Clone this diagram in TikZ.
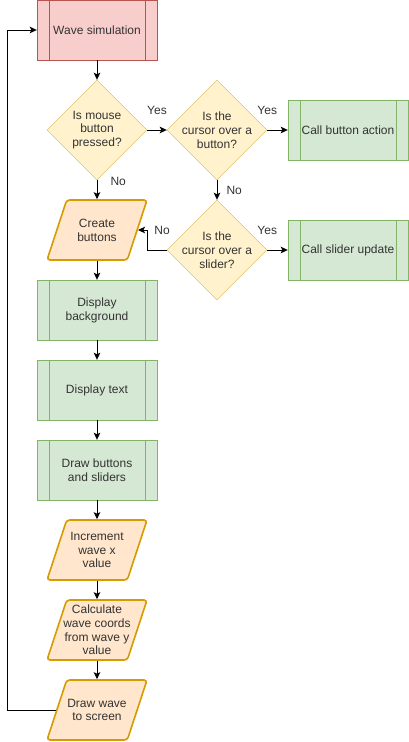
\documentclass[tikz,border=0pt]{standalone}
\usepackage{fontspec}
\setmainfont{Liberation Sans}
\usetikzlibrary{shapes.geometric,arrows.meta}
\definecolor{redfill}{HTML}{F8CECC}
\definecolor{redline}{HTML}{B85450}
\definecolor{greenfill}{HTML}{D5E8D4}
\definecolor{greenline}{HTML}{82B366}
\definecolor{yellowfill}{HTML}{FFF2CC}
\definecolor{yellowline}{HTML}{D6B656}
\definecolor{orangefill}{HTML}{FFE6CC}
\definecolor{orangeline}{HTML}{D79B00}
\definecolor{txtgray}{HTML}{333333}

\begin{document}
\begin{tikzpicture}[x=1pt, y=-1pt, font=\fontsize{12}{14}\selectfont, text=txtgray,
  predef/.style 2 args={rectangle, draw=#2, fill=#1, minimum width=120pt,
    minimum height=60pt, align=center,
    path picture={\draw[#2]
      ([xshift=12pt]path picture bounding box.north west) -- ([xshift=12pt]path picture bounding box.south west)
      ([xshift=-12pt]path picture bounding box.north east) -- ([xshift=-12pt]path picture bounding box.south east);}},
  decision/.style={diamond, draw=yellowline, fill=yellowfill, minimum width=100pt,
    minimum height=100pt, inner sep=2pt},
  io/.style={trapezium, trapezium left angle=72, trapezium right angle=108,
    trapezium stretches=true, draw=orangeline, fill=orangefill, line width=1.6pt,
    rounded corners=3pt, minimum width=100pt, minimum height=60pt, inner sep=2pt},
  txt/.style={align=center, inner sep=0pt, font=\fontsize{12}{13.8}\selectfont},
  arr/.style={-{Stealth[length=7pt,width=6.5pt,inset=1.5pt]}, line width=1pt},
  lbl/.style={inner sep=1pt}
  ]
  \useasboundingbox (0,0) rectangle (408,742);

  \node[predef={redfill}{redline}] (ws) at (97,30) {Wave simulation};
  \node[decision, label={[txt]center:Is mouse\\button\\pressed?}] (mouse) at (97,130) {};
  \node[decision, label={[txt]center:Is the\\cursor over a\\button?}] (onbutton) at (217,130) {};
  \node[predef={greenfill}{greenline}] (action) at (348,130) {Call button action};
  \node[decision, label={[txt]center:Is the\\cursor over a\\slider?}] (onslider) at (217,250) {};
  \node[predef={greenfill}{greenline}] (update) at (348,250) {Call slider update};
  \node[io, label={[txt]center:Create\\buttons}] (create) at (97,230) {};
  \node[predef={greenfill}{greenline}] (background) at (97,310) {Display\\background};
  \node[predef={greenfill}{greenline}] (showtext) at (97,390) {Display text};
  \node[predef={greenfill}{greenline}] (drawbs) at (97,470) {Draw buttons\\and sliders};
  \node[io, label={[txt]center:Increment\\wave x\\value}] (incx) at (97,550) {};
  \node[io, label={[txt]center:Calculate\\wave coords\\from wave y\\value}] (coords) at (97,630) {};
  \node[io, label={[txt]center:Draw wave\\to screen}] (drawwave) at (97,710) {};
  \coordinate (back) at (7,0);

  \draw[arr] (ws) -- (mouse);
  \draw[arr] (mouse) -- node[lbl, midway, above=14pt] {Yes} (onbutton);
  \draw[arr] (onbutton) -- node[lbl, pos=0, above=14pt] {Yes} (action);
  \draw[arr] (mouse) -- node[lbl, pos=0.05, right=12pt] {No} (create);
  \draw[arr] (onbutton) -- node[lbl, midway, right=8pt] {No} (onslider);
  \draw[arr] (onslider) -- node[lbl, pos=0, above=14pt] {Yes} (update);
  \draw[arr] (onslider.west) -- node[lbl, pos=0.25, above=14pt] {No} ++(-19,0) |- (create.east);
  \draw[arr] (create) -- (background);
  \draw[arr] (background) -- (showtext);
  \draw[arr] (showtext) -- (drawbs);
  \draw[arr] (drawbs) -- (incx);
  \draw[arr] (incx) -- (coords);
  \draw[arr] (coords) -- (drawwave);
  \draw[arr] (drawwave.west) -- (drawwave.west -| back) |- (ws.west);
\end{tikzpicture}
\end{document}
